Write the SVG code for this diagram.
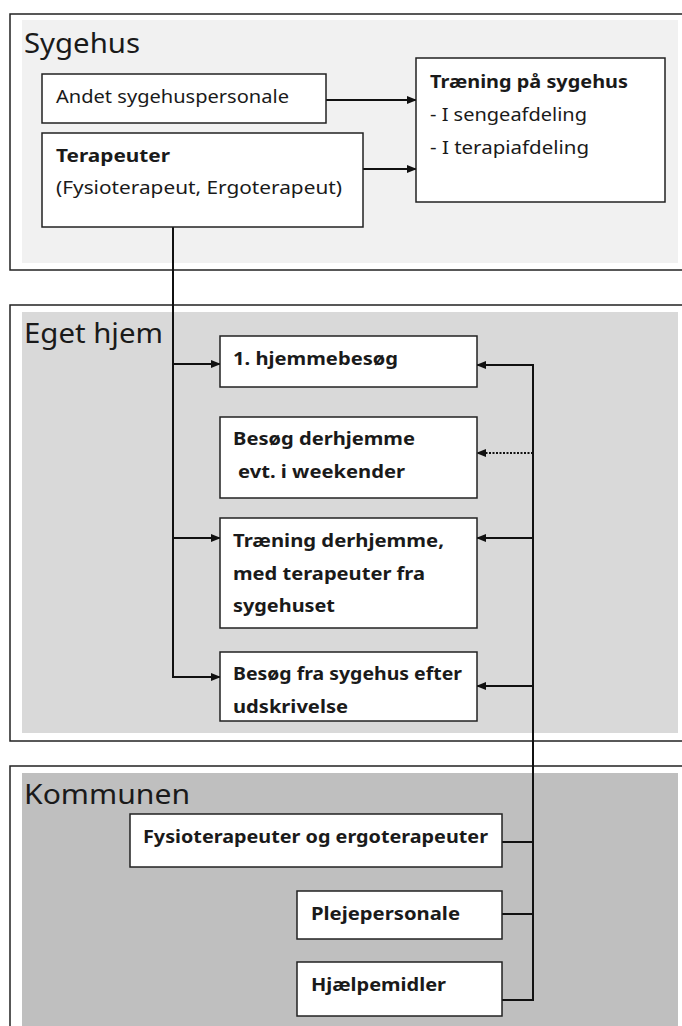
<svg xmlns="http://www.w3.org/2000/svg" width="682" height="1026" viewBox="0 0 682 1026">
<style>
.frame{fill:#ffffff;stroke:#222;stroke-width:1.5}
.box{fill:#ffffff;stroke:#222;stroke-width:1.5}
.t{font-family:"Noto Sans","Liberation Sans",sans-serif;font-size:18px;fill:#1a1a1a}
.b{font-weight:bold}
.title{font-family:"Noto Sans","Liberation Sans",sans-serif;font-size:27px;fill:#1a1a1a}
.c{fill:none;stroke:#111;stroke-width:2}
.dot{fill:none;stroke:#111;stroke-width:2;stroke-dasharray:2 1.5}
</style>
<defs>
<marker id="ah" markerUnits="userSpaceOnUse" markerWidth="10" markerHeight="8" refX="9" refY="4" orient="auto">
<path d="M0,0 L10,4 L0,8 Z" fill="#111"/>
</marker>
</defs>

<g id="sygehus">
<rect class="frame" x="10" y="14" width="700" height="256"/>
<rect x="22" y="20" width="656" height="243" fill="#f1f1f1"/>
<text class="title" x="24" y="53" textLength="116" lengthAdjust="spacingAndGlyphs">Sygehus</text>
</g>
<g id="eget-hjem">
<rect class="frame" x="10" y="305" width="700" height="436"/>
<rect x="22" y="312" width="656" height="421" fill="#d9d9d9"/>
<text class="title" x="24" y="343" textLength="139" lengthAdjust="spacingAndGlyphs">Eget hjem</text>
</g>
<g id="kommunen">
<rect class="frame" x="10" y="766" width="700" height="300"/>
<rect x="22" y="773" width="656" height="260" fill="#bfbfbf"/>
<text class="title" x="24" y="804" textLength="166" lengthAdjust="spacingAndGlyphs">Kommunen</text>
</g>

<g id="connectors">
<line class="c" x1="326" y1="100" x2="416" y2="100" marker-end="url(#ah)"/>
<line class="c" x1="363" y1="169" x2="416" y2="169" marker-end="url(#ah)"/>
<path class="c" d="M173,227 V677 H220" marker-end="url(#ah)"/>
<path class="c" d="M173,364 H220" marker-end="url(#ah)"/>
<path class="c" d="M173,538 H220" marker-end="url(#ah)"/>
<path class="c" d="M502,1000 H533 V365 H477" marker-end="url(#ah)"/>
<path class="c" d="M533,538 H477" marker-end="url(#ah)"/>
<path class="c" d="M533,686 H477" marker-end="url(#ah)"/>
<path class="dot" d="M533,453 H477" marker-end="url(#ah)"/>
<path class="c" d="M502,842 H533"/>
<path class="c" d="M502,914 H533"/>
</g>

<g id="andet">
<rect class="box" x="42" y="74" width="284" height="49"/>
<text class="t" x="56" y="103" textLength="233" lengthAdjust="spacingAndGlyphs">Andet sygehuspersonale</text>
</g>
<g id="terapeuter">
<rect class="box" x="42" y="133" width="321" height="94"/>
<text class="t b" x="56" y="162" textLength="114" lengthAdjust="spacingAndGlyphs">Terapeuter</text>
<text class="t" x="56" y="194" textLength="286" lengthAdjust="spacingAndGlyphs">(Fysioterapeut, Ergoterapeut)</text>
</g>
<g id="traening-sygehus">
<rect class="box" x="416" y="58" width="249" height="144"/>
<text class="t b" x="430" y="88" textLength="198" lengthAdjust="spacingAndGlyphs">Træning på sygehus</text>
<text class="t" x="430" y="121" textLength="157" lengthAdjust="spacingAndGlyphs">- I sengeafdeling</text>
<text class="t" x="430" y="154" textLength="159" lengthAdjust="spacingAndGlyphs">- I terapiafdeling</text>
</g>

<g id="hjemmebesoeg">
<rect class="box" x="220" y="336" width="257" height="51"/>
<text class="t b" x="233" y="365" textLength="165" lengthAdjust="spacingAndGlyphs">1. hjemmebesøg</text>
</g>
<g id="besoeg-derhjemme">
<rect class="box" x="220" y="417" width="257" height="81"/>
<text class="t b" x="233" y="445" textLength="182" lengthAdjust="spacingAndGlyphs">Besøg derhjemme</text>
<text class="t b" x="238" y="478" textLength="167" lengthAdjust="spacingAndGlyphs">evt. i weekender</text>
</g>
<g id="traening-derhjemme">
<rect class="box" x="220" y="518" width="257" height="110"/>
<text class="t b" x="233" y="547" textLength="211" lengthAdjust="spacingAndGlyphs">Træning derhjemme,</text>
<text class="t b" x="233" y="580" textLength="192" lengthAdjust="spacingAndGlyphs">med terapeuter fra</text>
<text class="t b" x="233" y="612" textLength="102" lengthAdjust="spacingAndGlyphs">sygehuset</text>
</g>
<g id="besoeg-efter">
<rect class="box" x="220" y="652" width="257" height="69"/>
<text class="t b" x="233" y="680" textLength="229" lengthAdjust="spacingAndGlyphs">Besøg fra sygehus efter</text>
<text class="t b" x="233" y="713" textLength="115" lengthAdjust="spacingAndGlyphs">udskrivelse</text>
</g>

<g id="fysio-ergo">
<rect class="box" x="130" y="814" width="372" height="53"/>
<text class="t b" x="143" y="843" textLength="345" lengthAdjust="spacingAndGlyphs">Fysioterapeuter og ergoterapeuter</text>
</g>
<g id="plejepersonale">
<rect class="box" x="297" y="891" width="205" height="48"/>
<text class="t b" x="311" y="920" textLength="149" lengthAdjust="spacingAndGlyphs">Plejepersonale</text>
</g>
<g id="hjaelpemidler">
<rect class="box" x="297" y="962" width="205" height="54"/>
<text class="t b" x="311" y="991" textLength="135" lengthAdjust="spacingAndGlyphs">Hjælpemidler</text>
</g>
</svg>
